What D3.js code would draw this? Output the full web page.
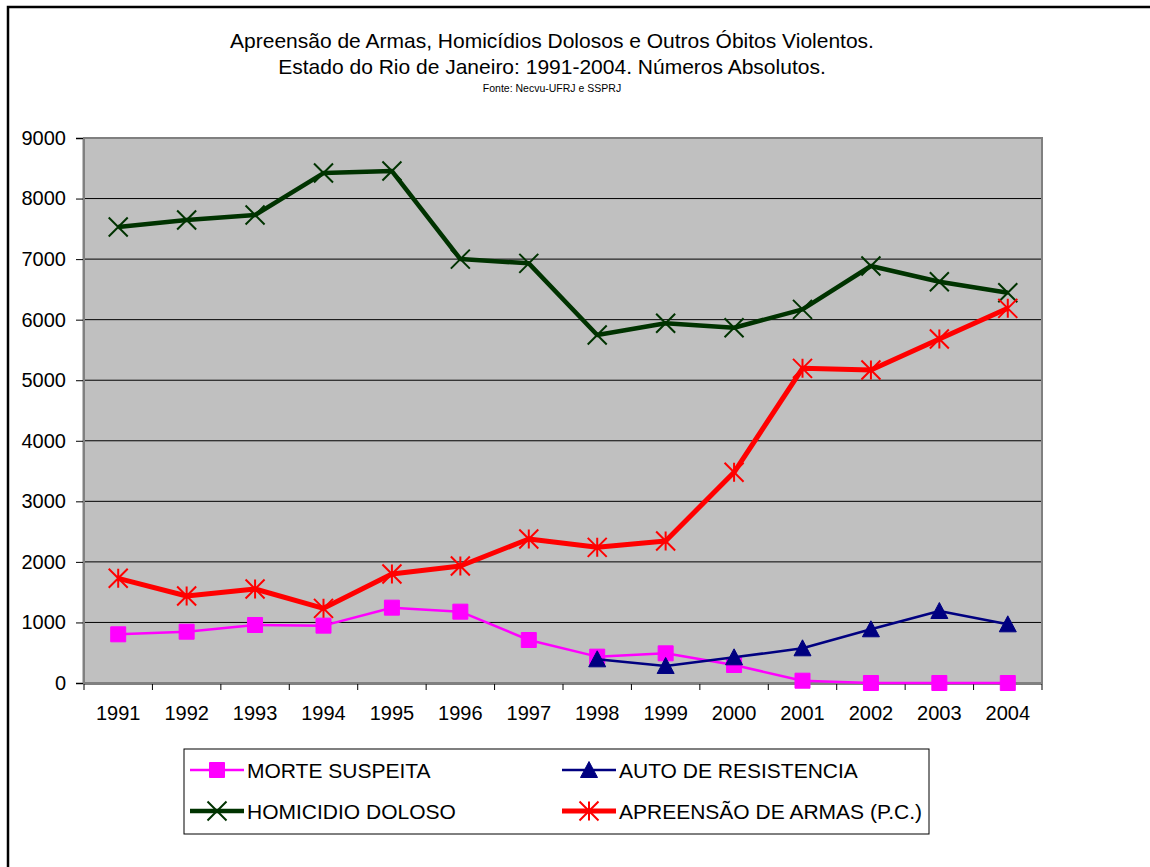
<!DOCTYPE html>
<html>
<head>
<meta charset="utf-8">
<script src="https://cdn.jsdelivr.net/npm/d3@7"></script>
<style>
    body { margin: 0; background: #fff; }
    text { font-family: "Liberation Sans", Arial, sans-serif; fill: #000; }
</style>
</head>
<body>
<div id="chart"></div>
<script>
// Data
var years = ["1991", "1992", "1993", "1994", "1995", "1996", "1997", "1998", "1999", "2000", "2001", "2002", "2003", "2004"];
var morteSuspeita = [804, 847, 958, 947, 1244, 1178, 710, 435, 490, 297, 38, 0, 0, 0];
var autoResistencia = [null, null, null, null, null, null, null, 391, 281, 424, 573, 887, 1189, 969];
var homicidioDoloso = [7530, 7645, 7728, 8421, 8454, 7000, 6930, 5746, 5940, 5867, 6170, 6886, 6627, 6445];
var apreensaoArmas = [1729, 1437, 1552, 1233, 1800, 1932, 2378, 2240, 2345, 3479, 5196, 5168, 5680, 6187];
var yTicks = [0, 1000, 2000, 3000, 4000, 5000, 6000, 7000, 8000, 9000];
var titleLines = [
    "Apreensão de Armas, Homicídios Dolosos e Outros Óbitos Violentos.",
    "Estado do Rio de Janeiro: 1991-2004. Números Absolutos."
];
var sourceLine = "Fonte: Necvu-UFRJ e SSPRJ";

var seriesList = [
    { name: "MORTE SUSPEITA", values: morteSuspeita, color: "#ff00ff", width: 2.5, marker: "square" },
    { name: "AUTO DE RESISTENCIA", values: autoResistencia, color: "#000080", width: 2.5, marker: "triangle" },
    { name: "HOMICIDIO DOLOSO", values: homicidioDoloso, color: "#003300", width: 4.5, marker: "cross" },
    { name: "APREENSÃO DE ARMAS (P.C.)", values: apreensaoArmas, color: "#ff0000", width: 5, marker: "star" }
];

class LineChartCreator {
    constructor(element) {
        this.width = 1150;
        this.height = 867;
        this.plot = { left: 84, top: 138, right: 1042, bottom: 683 };
        this.wrapperElement = d3.select(element);
        return this;
    }

    create() {
        this.canvas = this.wrapperElement.append("svg")
            .attr("width", this.width)
            .attr("height", this.height);

        this.x = d3.scaleBand()
            .domain(years)
            .range([this.plot.left, this.plot.right]);
        this.y = d3.scaleLinear()
            .domain([0, 9000])
            .range([this.plot.bottom, this.plot.top]);

        this.addFrame();
        this.addTitles();
        this.addPlotArea();
        this.addAxes();
        seriesList.forEach((s) => this.addSeries(s));
        this.addLegend();
        return this;
    }

    // outer chart border (only left and top visible in the picture)
    addFrame() {
        this.canvas.append("rect")
            .attr("x", 8).attr("y", 7)
            .attr("width", 1200).attr("height", 1000)
            .attr("fill", "#fff")
            .attr("stroke", "#000")
            .attr("stroke-width", 2.5);
    }

    addTitles() {
        var cx = 552;
        titleLines.forEach((line, i) => {
            this.canvas.append("text")
                .attr("x", cx)
                .attr("y", 48 + i * 26)
                .attr("text-anchor", "middle")
                .attr("font-size", "21px")
                .text(line);
        });
        this.canvas.append("text")
            .attr("x", cx)
            .attr("y", 92)
            .attr("text-anchor", "middle")
            .attr("font-size", "10.5px")
            .text(sourceLine);
    }

    addPlotArea() {
        var p = this.plot;
        this.canvas.append("rect")
            .attr("x", p.left).attr("y", p.top)
            .attr("width", p.right - p.left).attr("height", p.bottom - p.top)
            .attr("fill", "#c0c0c0");

        //Gridlines
        this.canvas.append("g")
            .selectAll("line")
            .data(yTicks.filter((d) => d > 0 && d < 9000))
            .enter()
            .append("line")
            .attr("x1", p.left).attr("x2", p.right)
            .attr("y1", (d) => this.y(d)).attr("y2", (d) => this.y(d))
            .attr("stroke", "#000")
            .attr("stroke-width", 1);

        //Plot border
        this.canvas.append("rect")
            .attr("x", p.left).attr("y", p.top)
            .attr("width", p.right - p.left).attr("height", p.bottom - p.top)
            .attr("fill", "none")
            .attr("stroke", "#808080")
            .attr("stroke-width", 2);
    }

    addAxes() {
        var p = this.plot;
        var yAxis = d3.axisLeft(this.y)
            .tickValues(yTicks)
            .tickSize(7)
            .tickPadding(10)
            .tickFormat(d3.format("d"));
        var yg = this.canvas.append("g")
            .attr("transform", "translate(" + (p.left - 1) + ",0)")
            .call(yAxis);
        yg.select(".domain").attr("stroke", "#808080").attr("stroke-width", 2);
        yg.selectAll(".tick line").attr("stroke", "#000");
        yg.selectAll("text").attr("font-size", "20px").attr("font-family", "Liberation Sans, Arial, sans-serif");

        // x axis: ticks between categories
        var xg = this.canvas.append("g")
            .attr("transform", "translate(0," + (p.bottom + 1) + ")");
        xg.append("line")
            .attr("x1", p.left).attr("x2", p.right)
            .attr("stroke", "#808080").attr("stroke-width", 2);
        var bounds = years.map((d) => this.x(d)).concat([this.x.range()[1]]);
        xg.selectAll(".xtick")
            .data(bounds)
            .enter()
            .append("line")
            .attr("x1", (d) => d).attr("x2", (d) => d)
            .attr("y1", 0).attr("y2", 6)
            .attr("stroke", "#000");
        xg.selectAll("text")
            .data(years)
            .enter()
            .append("text")
            .attr("x", (d) => this.x(d) + this.x.bandwidth() / 2)
            .attr("y", 36)
            .attr("text-anchor", "middle")
            .attr("font-size", "20px")
            .text((d) => d);
    }

    markerPath(type, size) {
        var h = size / 2;
        if (type === "square") {
            return "M" + (-h) + "," + (-h) + "h" + size + "v" + size + "h" + (-size) + "Z";
        }
        if (type === "triangle") {
            return "M0," + (-h - 1) + "L" + (h + 1) + "," + h + "L" + (-h - 1) + "," + h + "Z";
        }
        if (type === "cross") {
            return "M" + (-h) + "," + (-h) + "L" + h + "," + h + "M" + (-h) + "," + h + "L" + h + "," + (-h);
        }
        // star: cross plus vertical bar
        return "M" + (-h) + "," + (-h) + "L" + h + "," + h + "M" + (-h) + "," + h + "L" + h + "," + (-h) +
            "M0," + (-h) + "L0," + h;
    }

    drawMarker(g, type, color, cx, cy) {
        var filled = type === "square" || type === "triangle";
        var size = filled ? 15 : 19;
        g.append("path")
            .attr("transform", "translate(" + cx + "," + cy + ")")
            .attr("d", this.markerPath(type, size))
            .attr("fill", filled ? color : "none")
            .attr("stroke", color)
            .attr("stroke-width", filled ? 1 : 2);
    }

    addSeries(s) {
        var pts = years.map((d, i) => ({ year: d, value: s.values[i] }))
            .filter((d) => d.value !== null);
        var cx = (d) => this.x(d.year) + this.x.bandwidth() / 2;
        var line = d3.line()
            .x(cx)
            .y((d) => this.y(d.value));
        var g = this.canvas.append("g");
        g.append("path")
            .datum(pts)
            .attr("d", line)
            .attr("fill", "none")
            .attr("stroke", s.color)
            .attr("stroke-width", s.width)
            .attr("stroke-linejoin", "round");
        pts.forEach((d) => this.drawMarker(g, s.marker, s.color, cx(d), this.y(d.value)));
    }

    addLegend() {
        var box = { x: 184, y: 749, w: 745, h: 85 };
        this.canvas.append("rect")
            .attr("x", box.x).attr("y", box.y)
            .attr("width", box.w).attr("height", box.h)
            .attr("fill", "#fff")
            .attr("stroke", "#000")
            .attr("stroke-width", 1);
        var cols = [190, 562];
        var rows = [770, 811];
        seriesList.forEach((s, i) => {
            var lx = cols[i % 2];
            var ly = rows[Math.floor(i / 2)];
            var g = this.canvas.append("g");
            g.append("line")
                .attr("x1", lx).attr("x2", lx + 54)
                .attr("y1", ly).attr("y2", ly)
                .attr("stroke", s.color)
                .attr("stroke-width", s.width);
            this.drawMarker(g, s.marker, s.color, lx + 27, ly);
            g.append("text")
                .attr("x", lx + 57)
                .attr("y", ly + 7.5)
                .attr("font-size", "21px")
                .text(s.name);
        });
    }
}

new LineChartCreator("#chart").create();
</script>
</body>
</html>
